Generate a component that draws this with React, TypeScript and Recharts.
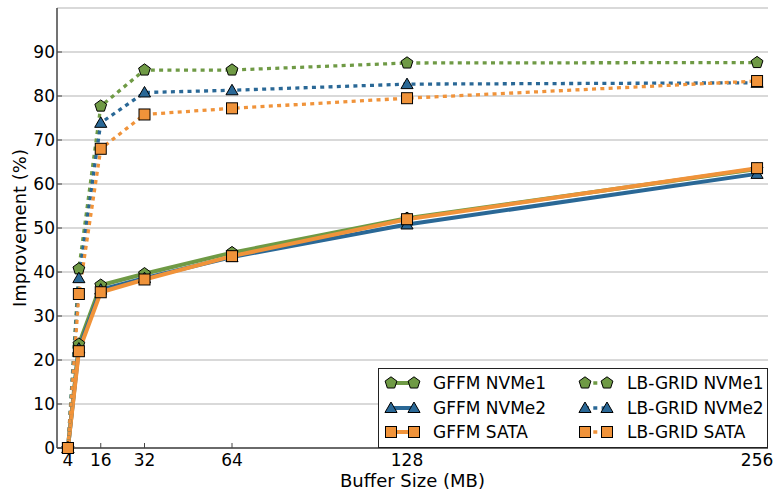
import React from 'react';
import { LineChart, Line, XAxis, YAxis, CartesianGrid } from 'recharts';

const bufferSizes = [4, 8, 16, 32, 64, 128, 256];
const gffmNvme1 = [0, 23.6, 37.0, 39.6, 44.4, 52.2, 63.4];
const gffmNvme2 = [0, 22.6, 36.0, 38.6, 43.4, 50.8, 62.3];
const gffmSata = [0, 22.0, 35.4, 38.3, 43.6, 52.0, 63.6];
const lbNvme1 = [0, 40.7, 77.7, 85.9, 85.9, 87.5, 87.6];
const lbNvme2 = [0, 38.6, 73.9, 80.8, 81.3, 82.7, 83.0];
const lbSata = [0, 35.0, 68.0, 75.8, 77.2, 79.5, 83.4];
const xTicks = [4, 16, 32, 64, 128, 256];
const yTicks = [0, 10, 20, 30, 40, 50, 60, 70, 80, 90];

const GREEN = '#6f9a45';
const BLUE = '#2a6896';
const ORANGE = '#f0933a';
const FRAME = '#444444';
const FONT = '"DejaVu Sans", sans-serif';
const DASH = '4 4.3';
const DOT_W = 3.3;

const data = bufferSizes.map((x, i) => ({
  x,
  gffmNvme1: gffmNvme1[i],
  gffmNvme2: gffmNvme2[i],
  gffmSata: gffmSata[i],
  lbNvme1: lbNvme1[i],
  lbNvme2: lbNvme2[i],
  lbSata: lbSata[i],
}));

type Shape = 'pentagon' | 'triangle' | 'square';

function marker(shape: Shape, cx: number, cy: number, fill: string, key?: any) {
  if (shape === 'pentagon') {
    const r = 6.2;
    const pts = [0, 1, 2, 3, 4]
      .map((k) => {
        const a = -Math.PI / 2 + (k * 2 * Math.PI) / 5;
        return `${cx + r * Math.cos(a)},${cy + r * Math.sin(a)}`;
      })
      .join(' ');
    return <polygon key={key} points={pts} fill={fill} stroke="#000" strokeWidth={1} />;
  }
  if (shape === 'triangle') {
    const r = 7;
    const pts = [0, 1, 2]
      .map((k) => {
        const a = -Math.PI / 2 + (k * 2 * Math.PI) / 3;
        return `${cx + r * Math.cos(a)},${cy + r * Math.sin(a) + 1}`;
      })
      .join(' ');
    return <polygon key={key} points={pts} fill={fill} stroke="#000" strokeWidth={1} />;
  }
  const s = 11;
  return <rect key={key} x={cx - s / 2} y={cy - s / 2} width={s} height={s} fill={fill} stroke="#000" strokeWidth={1} />;
}

const dotFn = (shape: Shape, fill: string) => (p: any) => {
  if (p.cx == null || p.cy == null) return <g key={p.key} />;
  return marker(shape, p.cx, p.cy, fill, p.key);
};

const series = [
  { key: 'gffmNvme1', name: 'GFFM NVMe1', color: GREEN, shape: 'pentagon' as Shape, dotted: false },
  { key: 'gffmNvme2', name: 'GFFM NVMe2', color: BLUE, shape: 'triangle' as Shape, dotted: false },
  { key: 'gffmSata', name: 'GFFM SATA', color: ORANGE, shape: 'square' as Shape, dotted: false },
  { key: 'lbNvme1', name: 'LB-GRID NVMe1', color: GREEN, shape: 'pentagon' as Shape, dotted: true },
  { key: 'lbNvme2', name: 'LB-GRID NVMe2', color: BLUE, shape: 'triangle' as Shape, dotted: true },
  { key: 'lbSata', name: 'LB-GRID SATA', color: ORANGE, shape: 'square' as Shape, dotted: true },
];

const emptyTick = () => <g />;

function LegendBox() {
  const rows = [15, 40, 64];
  return (
    <div style={{ position: 'absolute', left: 378, top: 368, width: 390, height: 80 }}>
      <svg width={390} height={80} style={{ display: 'block' }}>
        <rect x={0.5} y={0.5} width={389} height={79} fill="#fff" stroke="#222" strokeWidth={1} />
        {series.map((s, i) => {
          const col = i < 3 ? 0 : 1;
          const y = rows[i % 3];
          const x1 = col === 0 ? 13 : 207;
          const x2 = col === 0 ? 36 : 229;
          const tx = col === 0 ? 55 : 249;
          return (
            <g key={s.key}>
              <line
                x1={x1}
                x2={x2}
                y1={y}
                y2={y}
                stroke={s.color}
                strokeWidth={s.dotted ? DOT_W : 4}
                strokeDasharray={s.dotted ? DASH : undefined}
              />
              {marker(s.shape, x1, y, s.color)}
              {marker(s.shape, x2, y, s.color)}
              <text x={tx} y={y} dominantBaseline="central" fontFamily={FONT} fontSize={17} fill="#000">
                {s.name}
              </text>
            </g>
          );
        })}
      </svg>
    </div>
  );
}

export default function App() {
  return (
    <div style={{ position: 'absolute', left: 0, top: 0, width: 777, height: 493, background: '#fff' }}>
      <LineChart width={777} height={493} data={data} margin={{ top: 8, right: 9, bottom: 0, left: 0 }}>
        <CartesianGrid vertical={false} stroke="#cccccc" strokeWidth={1.5} />
        <XAxis
          dataKey="x"
          type="number"
          domain={[0, 260]}
          ticks={xTicks}
          height={45}
          tickSize={-5}
          tickMargin={11}
          axisLine={{ stroke: FRAME, strokeWidth: 1.5 }}
          tickLine={{ stroke: FRAME, strokeWidth: 1 }}
          tick={{ fill: '#000', fontSize: 17, fontFamily: FONT }}
          label={(p: any) => {
            const vb = p.viewBox || {};
            return (
              <text x={vb.x + vb.width / 2} y={vb.y + 32} textAnchor="middle" dominantBaseline="central" fontFamily={FONT} fontSize={18} fill="#000">
                Buffer Size (MB)
              </text>
            );
          }}
        />
        <XAxis
          xAxisId="top"
          orientation="top"
          dataKey="x"
          type="number"
          domain={[0, 260]}
          ticks={xTicks}
          height={0}
          tickSize={-5}
          axisLine={{ stroke: FRAME, strokeWidth: 1.5 }}
          tickLine={{ stroke: FRAME, strokeWidth: 1 }}
          tick={emptyTick}
        />
        <YAxis
          type="number"
          domain={[0, 100]}
          ticks={yTicks}
          width={57}
          tickSize={-5}
          tickMargin={7}
          axisLine={{ stroke: FRAME, strokeWidth: 1.5 }}
          tickLine={{ stroke: FRAME, strokeWidth: 1 }}
          tick={{ fill: '#000', fontSize: 17, fontFamily: FONT }}
          label={(p: any) => {
            const vb = p.viewBox || {};
            const cx = 19.5;
            const cy = vb.y + vb.height / 2;
            return (
              <text x={cx} y={cy} transform={`rotate(-90 ${cx} ${cy})`} textAnchor="middle" dominantBaseline="central" fontFamily={FONT} fontSize={18} fill="#000">
                Improvement (%)
              </text>
            );
          }}
        />
        <YAxis
          yAxisId="right"
          orientation="right"
          type="number"
          domain={[0, 100]}
          ticks={yTicks}
          width={0}
          tickSize={-5}
          axisLine={{ stroke: FRAME, strokeWidth: 1.5 }}
          tickLine={{ stroke: FRAME, strokeWidth: 1 }}
          tick={emptyTick}
        />
        {series.map((s) => (
          <Line
            key={s.key}
            dataKey={s.key}
            name={s.name}
            type="linear"
            stroke={s.color}
            strokeWidth={s.dotted ? DOT_W : 4}
            strokeDasharray={s.dotted ? DASH : undefined}
            dot={dotFn(s.shape, s.color)}
            activeDot={false}
            isAnimationActive={false}
          />
        ))}
      </LineChart>
      <LegendBox />
    </div>
  );
}
